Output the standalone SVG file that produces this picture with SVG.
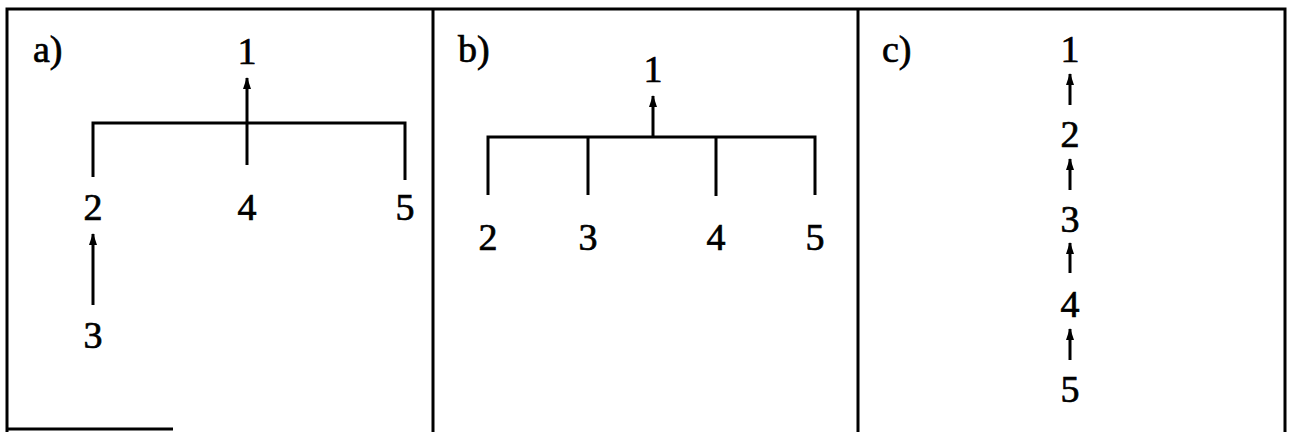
<svg xmlns="http://www.w3.org/2000/svg" width="1292" height="432" viewBox="0 0 1292 432">
<defs>
<style>
.frame{fill:none;stroke:#000;stroke-width:3}
.ln{fill:none;stroke:#000;stroke-width:3}
.t{text-anchor:middle}
</style>
<marker id="ah" markerUnits="userSpaceOnUse" markerWidth="12" markerHeight="8" viewBox="0 0 12 8" refX="11" refY="4" orient="auto">
<path d="M0,0 L12,4 L0,8 Z" fill="#000"/>
</marker>
</defs>
<rect width="1292" height="432" fill="#fff"/>
<g id="frames">
<path class="frame" d="M7,432 V9 H1285 V432"/>
<path class="frame" d="M433,9 V432 M858,9 V432"/>
<path class="frame" d="M7,429 H173"/>
</g>
<g id="connectors">
<path class="ln" d="M93,177 V123 H405 V180"/>
<path class="ln" d="M247,165 V78" marker-end="url(#ah)"/>
<path class="ln" d="M93,305 V234" marker-end="url(#ah)"/>
<path class="ln" d="M488,195 V137 H815 V195"/>
<path class="ln" d="M588,137 V195 M716,137 V196"/>
<path class="ln" d="M653,137 V96" marker-end="url(#ah)"/>
<path class="ln" d="M1070,105 V74" marker-end="url(#ah)"/>
<path class="ln" d="M1070,190 V159" marker-end="url(#ah)"/>
<path class="ln" d="M1070,273 V243" marker-end="url(#ah)"/>
<path class="ln" d="M1070,360 V329" marker-end="url(#ah)"/>
</g>
<g id="labels" font-family="Liberation Serif, Times New Roman, DejaVu Serif, serif" font-size="38" fill="#000" stroke="#000" stroke-width="0.7">
<g id="panel-a">
<text x="33" y="62">a)</text>
<g id="a1"><text class="t" x="247" y="64">1</text></g>
<g id="a2"><text class="t" x="93" y="220">2</text></g>
<g id="a4"><text class="t" x="247" y="220">4</text></g>
<g id="a5"><text class="t" x="405" y="220">5</text></g>
<g id="a3"><text class="t" x="93" y="348">3</text></g>
</g>
<g id="panel-b">
<text x="458" y="62">b)</text>
<g id="b1"><text class="t" x="653" y="82">1</text></g>
<g id="b2"><text class="t" x="488" y="250">2</text></g>
<g id="b3"><text class="t" x="588" y="250">3</text></g>
<g id="b4"><text class="t" x="716" y="250">4</text></g>
<g id="b5"><text class="t" x="815" y="250">5</text></g>
</g>
<g id="panel-c">
<text x="882" y="62">c)</text>
<g id="c1"><text class="t" x="1070" y="62">1</text></g>
<g id="c2"><text class="t" x="1070" y="147">2</text></g>
<g id="c3"><text class="t" x="1070" y="232">3</text></g>
<g id="c4"><text class="t" x="1070" y="317">4</text></g>
<g id="c5"><text class="t" x="1070" y="402">5</text></g>
</g>
</g>
</svg>
